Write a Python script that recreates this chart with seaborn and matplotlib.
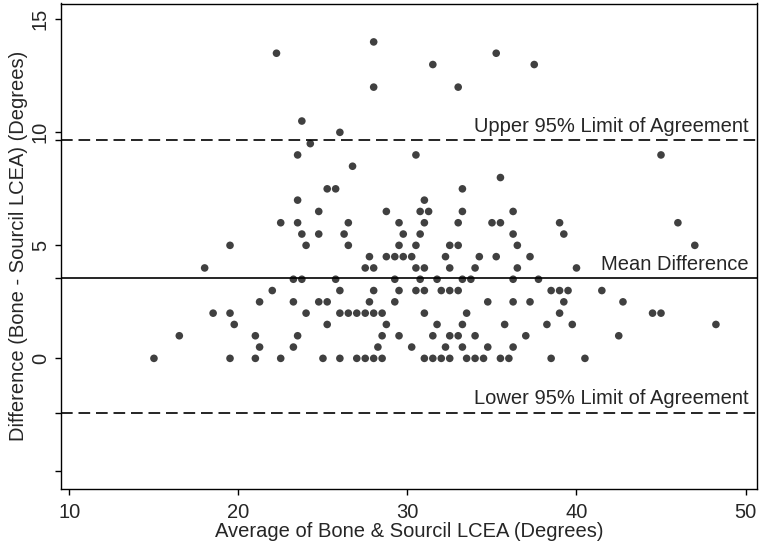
import pandas as pd
import seaborn as sns
import matplotlib.pyplot as plt

# difference levels (Bone - Sourcil), and the averages seen on each level
diff_levels = [14, 13.5, 13, 12, 10.5, 10, 9.5, 9, 8.5, 8, 7.5, 7, 6.5, 6, 5.5, 5,
               4.5, 4, 3.5, 3, 2.5, 2, 1.5, 1, 0.5, 0]
avg_at_level = [
    [28],
    [22.25, 35.25],
    [31.5, 37.5],
    [28, 33],
    [23.75],
    [26],
    [24.25],
    [23.5, 30.5, 45],
    [26.75],
    [35.5],
    [25.25, 25.75, 33.25],
    [23.5, 31],
    [24.75, 28.75, 30.75, 31.25, 33.25, 36.25],
    [22.5, 23.5, 26.5, 29.5, 31, 33, 35, 35.5, 39, 46],
    [23.75, 24.75, 26.25, 29.75, 30.75, 36.25, 39.25],
    [19.5, 24, 26.5, 29.5, 30.5, 32.5, 33, 36.5, 47],
    [27.75, 28.75, 29.25, 29.75, 30.25, 32.25, 34.25, 35.25, 37.25],
    [18, 27.5, 28, 30.5, 31, 32.5, 34, 36.5, 40],
    [23.25, 23.75, 25.75, 29.25, 30.75, 31.75, 33.25, 33.75, 36.25, 37.75],
    [22, 26, 28, 29.5, 30.5, 31, 32, 32.5, 33, 38.5, 39, 39.5, 41.5],
    [21.25, 23.25, 24.75, 25.25, 27.75, 29.25, 34.75, 36.25, 37.25, 39.25, 42.75],
    [18.5, 19.5, 24, 26, 26.5, 27, 27.5, 28, 28.5, 31, 33.5, 39, 44.5, 45],
    [19.75, 25.25, 28.75, 31.75, 33.25, 35.75, 38.25, 39.75, 48.25],
    [16.5, 21, 23.5, 28.5, 29.5, 31.5, 32.5, 33, 34, 37, 42.5],
    [21.25, 23.25, 28.25, 30.25, 32.25, 33.25, 34.75, 36.25],
    [15, 19.5, 21, 22.5, 25, 26, 27, 27.5, 28, 28.5, 31, 31.5, 32, 32.5, 33.5, 34,
     34.5, 35.5, 36, 38.5, 40.5],
]
mean_diff = 3.55
upper_loa = 9.65
lower_loa = -2.4

rows = []
for d, xs in zip(diff_levels, avg_at_level):
    for x in xs:
        rows.append({"avg": x, "diff": d})
df = pd.DataFrame(rows)

sns.set_style("ticks")
plt.rcParams['font.family'] = ['Liberation Sans', 'DejaVu Sans']
plt.rcParams['font.size'] = 14.5

fig = plt.figure(figsize=(7.6, 5.42), dpi=100)
ax = fig.add_axes([61/760, 1-489/542, 696/760, 485.5/542])

sns.scatterplot(data=df, x="avg", y="diff", color="#404040", s=30,
                edgecolor="none", ax=ax, legend=False)

ax.axhline(upper_loa, color="black", lw=1.2, ls=(0, (7, 3.5)))
ax.axhline(mean_diff, color="black", lw=1.2)
ax.axhline(lower_loa, color="black", lw=1.2, ls=(0, (7, 3.5)))

tr = ax.get_yaxis_transform()
ax.annotate("Upper 95% Limit of Agreement", (0.988, upper_loa), xycoords=tr,
            xytext=(0, 3), textcoords="offset points", ha="right", va="bottom")
ax.annotate("Mean Difference", (0.988, mean_diff), xycoords=tr,
            xytext=(0, 3), textcoords="offset points", ha="right", va="bottom")
ax.annotate("Lower 95% Limit of Agreement", (0.988, lower_loa), xycoords=tr,
            xytext=(0, 3), textcoords="offset points", ha="right", va="bottom")

ax.set_xlim(9.5, 50.68)
ax.set_ylim(-5.78, 15.7)
ax.set_xticks([10, 20, 30, 40, 50])
ax.set_yticks([0, 5, 10, 15])
ax.set_yticks([-5, lower_loa, mean_diff, upper_loa], minor=True)
ax.tick_params(axis="both", which="both", direction="out", length=4, width=1,
               color="black", labelsize=14.5)
ax.tick_params(axis="x", pad=6)
ax.tick_params(axis="y", pad=4, labelrotation=90)
for lab in ax.get_yticklabels():
    lab.set_va("center")
for s in ax.spines.values():
    s.set_color("black")
    s.set_linewidth(1)

ax.set_xlabel("Average of Bone & Sourcil LCEA (Degrees)", fontsize=14.5, labelpad=0)
ax.set_ylabel("Difference (Bone - Sourcil LCEA) (Degrees)", fontsize=14.5, labelpad=2)

fig.savefig("out.png", dpi=100)
